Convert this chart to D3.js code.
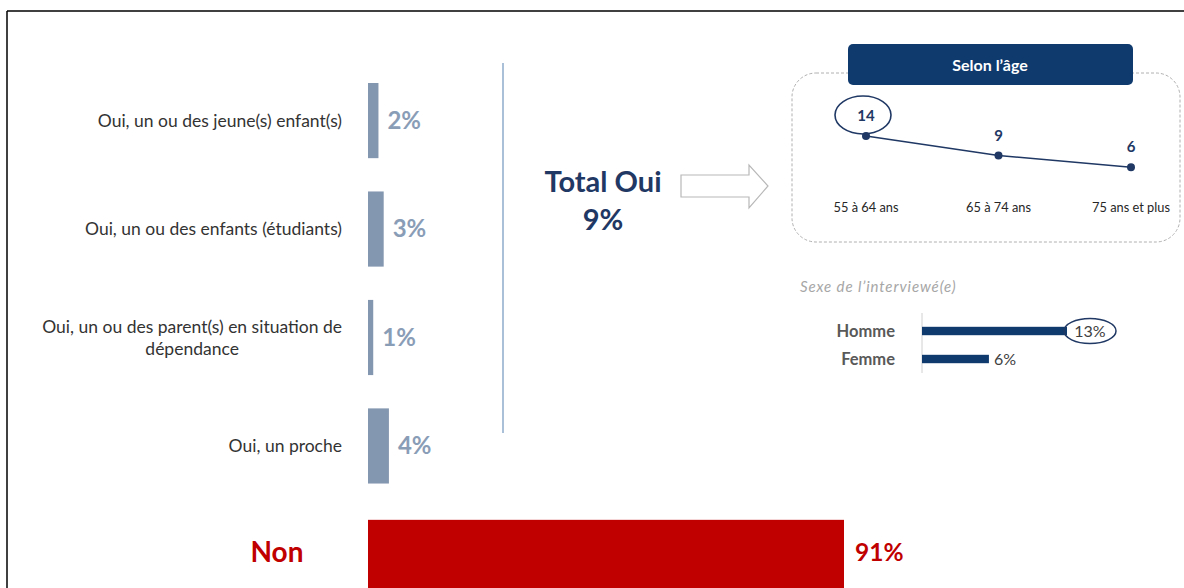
<!DOCTYPE html>
<html><head><meta charset="utf-8">
<script src="https://cdn.jsdelivr.net/npm/d3@7"></script>
<style>
html,body{margin:0;padding:0;background:#fff;}
svg{display:block;}
text{font-family:Lato,"Open Sans",sans-serif;}
</style></head>
<body>
<svg id="chart" width="1184" height="588"></svg>
<script>
// ---- data ----
const categories = ["Oui, un ou des jeune(s) enfant(s)", "Oui, un ou des enfants (étudiants)", "Oui, un ou des parent(s) en situation de|dépendance", "Oui, un proche", "Non"];
const values = [2, 3, 1, 4, 91];
const totalLabel = "Total Oui";
const totalValue = 9;
const ageCategories = ["55 à 64 ans", "65 à 74 ans", "75 ans et plus"];
const ageValues = [14, 9, 6];
const ageTitle = "Selon l’âge";
const sexCategories = ["Homme", "Femme"];
const sexValues = [13, 6];
const sexTitle = "Sexe de l’interviewé(e)";

const svg = d3.select("#chart");
const navy = "#1f3864";

// frame
svg.append("line").attr("x1",7).attr("x2",1184).attr("y1",11).attr("y2",11).attr("stroke","#000").attr("stroke-width",1.5);
svg.append("line").attr("x1",7).attr("x2",7).attr("y1",11).attr("y2",588).attr("stroke","#000").attr("stroke-width",1.5);

// ---- main bars ----
const y = d3.scaleBand().domain(categories).range([83, 592]).paddingInner(0.307);
const x = d3.scaleLinear().domain([0, 91]).range([368, 844]);

const g = svg.append("g");
g.selectAll("rect.bar").data(categories).join("rect")
  .attr("class","bar")
  .attr("x", x(0))
  .attr("y", d => d === "Non" ? y(d) + 3 : y(d))
  .attr("width", (d,i) => x(values[i]) - x(0))
  .attr("height", y.bandwidth())
  .attr("fill", (d,i) => d === "Non" ? "#c00000" : "#8497b0");

// value labels
g.selectAll("text.val").data(categories).join("text")
  .attr("class","val")
  .attr("x", (d,i) => x(values[i]) + (d === "Non" ? 11 : 9))
  .attr("y", d => y(d) + y.bandwidth()/2 + (d === "Non" ? -2 : 0))
  .attr("dy","0.35em")
  .attr("font-size", d => d === "Non" ? 24.5 : 24)
  .attr("font-weight","bold")
  .attr("fill", d => d === "Non" ? "#c00000" : "#8a9db7")
  .text((d,i) => values[i] + "%");

// category labels
categories.forEach((c) => {
  const lines = c.split("|");
  const cy = y(c) + y.bandwidth()/2 + (c === "Non" ? -2 : 0);
  if (c === "Non") {
    g.append("text").attr("x", 277).attr("y", cy).attr("dy","0.35em")
      .attr("text-anchor","middle").attr("font-size",28).attr("font-weight","bold")
      .attr("fill","#c00000").text(c);
    return;
  }
  const t = g.append("text").attr("font-size",17.5).attr("fill","#333")
    .attr("text-anchor","middle");
  const lh = 22;
  lines.forEach((ln, k) => {
    t.append("tspan").attr("y", cy + (k - (lines.length-1)/2)*lh).attr("dy","0.35em").text(ln);
  });
  let w = 0;
  t.selectAll("tspan").each(function(){ w = Math.max(w, this.getComputedTextLength()); });
  t.selectAll("tspan").attr("x", 342 - w/2);
});

// separator
svg.append("line").attr("x1",503).attr("x2",503).attr("y1",63).attr("y2",433)
  .attr("stroke","#8eaacb").attr("stroke-width",1.5);

// ---- total ----
svg.append("text").attr("x",603).attr("y",182).attr("dy","0.35em").attr("text-anchor","middle")
  .attr("font-size",29).attr("font-weight","bold").attr("fill",navy).text(totalLabel);
svg.append("text").attr("x",603).attr("y",220).attr("dy","0.35em").attr("text-anchor","middle")
  .attr("font-size",29).attr("font-weight","bold").attr("fill",navy).text(totalValue + "%");

// arrow
const ap = [[681,175],[749,175],[749,165],[768,186],[749,208],[749,197],[681,197]];
svg.append("path").attr("d", d3.line()(ap) + "Z").attr("fill","#fff").attr("stroke","#b8b8b8").attr("stroke-width",1.2);

// ---- age panel ----
svg.append("rect").attr("x",792).attr("y",73).attr("width",388).attr("height",169).attr("rx",24)
  .attr("fill","none").attr("stroke","#b0b0b0").attr("stroke-dasharray","3,2").attr("stroke-width",1);
svg.append("rect").attr("x",848).attr("y",44).attr("width",285).attr("height",41).attr("rx",5)
  .attr("fill","#0f3a6e");
svg.append("text").attr("x",990).attr("y",65).attr("dy","0.35em").attr("text-anchor","middle")
  .attr("font-size",16).attr("font-weight","bold").attr("fill","#fff").text(ageTitle);

const xa = d3.scalePoint().domain(ageCategories).range([866, 1131]);
const ya = d3.scaleLinear().domain([0, 14]).range([190.6, 136]);
const ageData = ageCategories.map((c,i) => ({c, v: ageValues[i]}));
svg.append("path").datum(ageData)
  .attr("d", d3.line().x(d => xa(d.c)).y(d => ya(d.v)))
  .attr("fill","none").attr("stroke",navy).attr("stroke-width",1.6);
svg.selectAll("circle.pt").data(ageData).join("circle").attr("class","pt")
  .attr("cx", d => xa(d.c)).attr("cy", d => ya(d.v)).attr("r",4).attr("fill",navy);
svg.selectAll("text.av").data(ageData).join("text").attr("class","av")
  .attr("x", d => xa(d.c)).attr("y", d => ya(d.v) - 20).attr("dy","0.35em")
  .attr("text-anchor","middle").attr("font-size",15).attr("font-weight","bold").attr("fill",navy)
  .text(d => d.v);
const maxA = ageData[d3.maxIndex(ageData, d => d.v)];
svg.append("ellipse").attr("cx", xa(maxA.c) - 3).attr("cy", ya(maxA.v) - 21).attr("rx",28).attr("ry",19)
  .attr("fill","none").attr("stroke",navy).attr("stroke-width",1.6);
svg.selectAll("text.ac").data(ageCategories).join("text").attr("class","ac")
  .attr("x", d => xa(d)).attr("y", 208).attr("dy","0.35em").attr("text-anchor","middle")
  .attr("font-size",12.8).attr("fill","#262626").text(d => d);

// ---- sex panel ----
svg.append("text").attr("x",800).attr("y",287).attr("dy","0.35em").attr("font-size",15)
  .attr("font-style","italic").attr("letter-spacing",0.9).attr("fill","#a6a6a6").text(sexTitle);
const ys = d3.scaleBand().domain(sexCategories).range([317, 373]).paddingInner(0.7).paddingOuter(0.35);
const xs = d3.scaleLinear().domain([0, 13]).range([922, 1067]);
svg.append("line").attr("x1",922).attr("x2",922).attr("y1",313).attr("y2",373).attr("stroke","#d0d0d0");
svg.selectAll("rect.sb").data(sexCategories).join("rect").attr("class","sb")
  .attr("x", xs(0)).attr("y", d => ys(d)).attr("width",(d,i)=> xs(sexValues[i]) - xs(0))
  .attr("height", ys.bandwidth()).attr("fill","#0f3a6e");
svg.selectAll("text.sl").data(sexCategories).join("text").attr("class","sl")
  .attr("x", 895).attr("y", d => ys(d) + ys.bandwidth()/2).attr("dy","0.35em").attr("text-anchor","end")
  .attr("font-size",16.5).attr("font-weight","bold").attr("fill","#595959").text(d => d);
const maxS = d3.maxIndex(sexValues);
svg.selectAll("text.sv").data(sexCategories).join("text").attr("class","sv")
  .attr("x", (d,i) => i === maxS ? xs(sexValues[i]) + 23 : xs(sexValues[i]) + 5)
  .attr("y", d => ys(d) + ys.bandwidth()/2).attr("dy","0.35em")
  .attr("text-anchor", (d,i) => i === maxS ? "middle" : "start")
  .attr("font-size",16).attr("fill","#404040").text((d,i) => sexValues[i] + "%");
svg.append("ellipse").attr("cx", xs(sexValues[maxS]) + 23).attr("cy", ys(sexCategories[maxS]) + ys.bandwidth()/2)
  .attr("rx",26).attr("ry",12.5).attr("fill","none").attr("stroke",navy).attr("stroke-width",1.5);
</script>
</body></html>
